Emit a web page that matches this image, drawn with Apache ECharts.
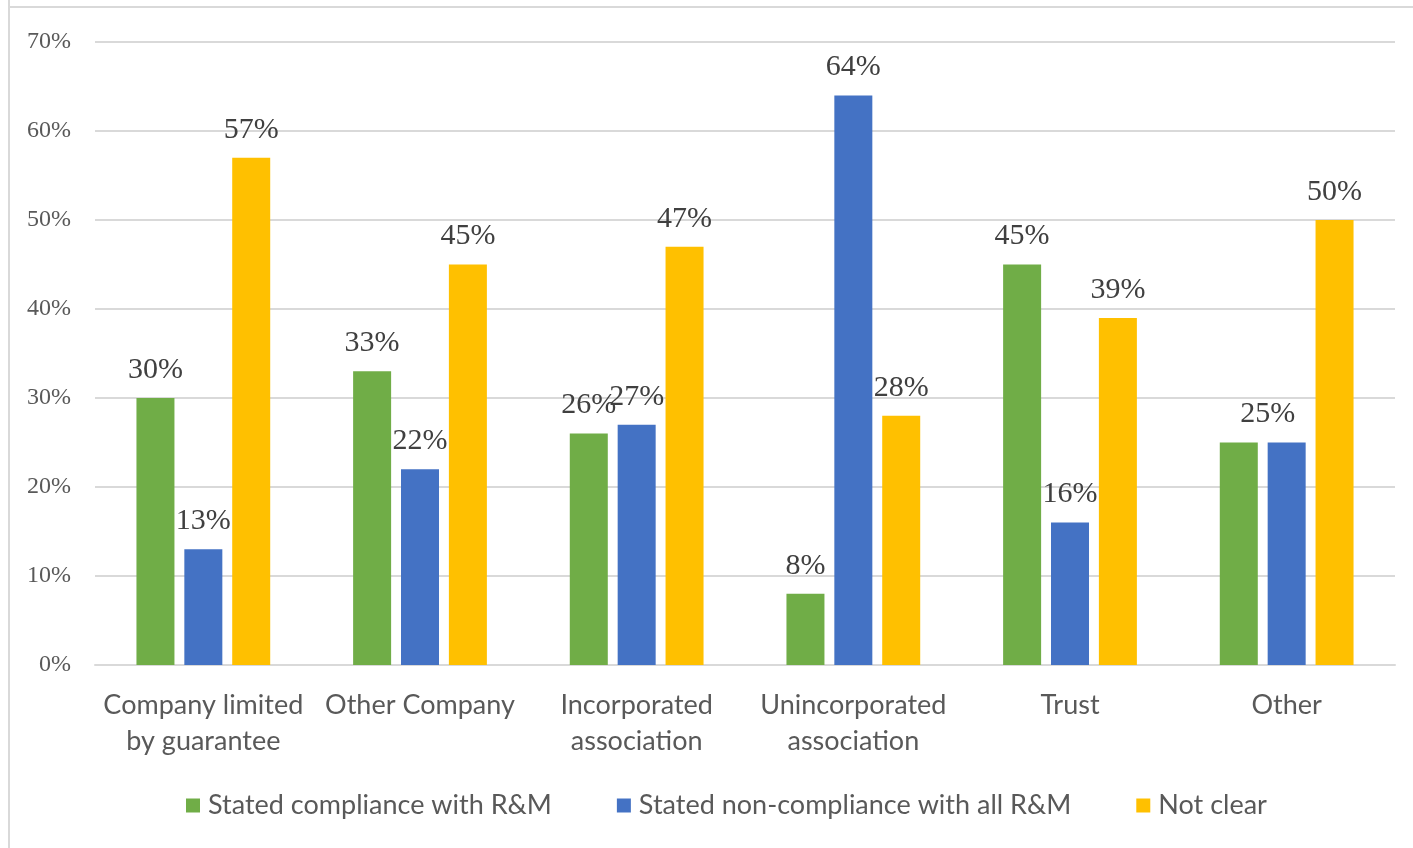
<!DOCTYPE html>
<html>
<head>
<meta charset="utf-8">
<script src="https://cdn.jsdelivr.net/npm/echarts@6/dist/echarts.min.js"></script>
<style>
  html, body { margin: 0; padding: 0; background: #fff; }
  #chart { width: 1413px; height: 848px; }
</style>
</head>
<body>
<div id="chart"></div>
<script>
// Legal structure categories
const categories = [
  'Company limited\nby guarantee',
  'Other Company',
  'Incorporated\nassociation',
  'Unincorporated\nassociation',
  'Trust',
  'Other'
];

// Share of organisations (%) per statement type
const compliance = [30, 33, 26, 8, 45, 25];
const nonCompliance = [13, 22, 27, 64, 16, 25];
const notClear = [57, 45, 47, 28, 39, 50];

const seriesNames = [
  'Stated compliance with R&M',
  'Stated non-compliance with all R&M',
  'Not clear'
];
const seriesColors = ['#70ad47', '#4472c4', '#ffc000'];

const serif = '"Liberation Serif", "DejaVu Serif", serif';
const sans = 'Lato, "Open Sans", sans-serif';

const labelStyle = {
  show: true,
  position: 'top',
  distance: 13,
  formatter: '{c}%',
  fontFamily: serif,
  fontSize: 30,
  color: '#404040'
};

// In the "Other" group the two equal 25% values share one centred label
function groupLabels(data, seriesIndex) {
  return data.map(function (v, i) {
    if (i === 5 && compliance[i] === nonCompliance[i]) {
      if (seriesIndex === 0) return { value: v, label: { offset: [29, 0] } };
      if (seriesIndex === 1) return { value: v, label: { show: false } };
    }
    return v;
  });
}

function makeSeries(idx, data) {
  return {
    name: seriesNames[idx],
    type: 'bar',
    data: groupLabels(data, idx),
    barWidth: 38,
    barGap: '26%',
    itemStyle: { color: seriesColors[idx] },
    label: labelStyle
  };
}

const chart = echarts.init(document.getElementById('chart'), null, { renderer: 'canvas' });

chart.setOption({
  animation: false,
  backgroundColor: '#ffffff',
  color: seriesColors,
  graphic: [
    { type: 'line', shape: { x1: 9, y1: 0, x2: 9, y2: 848 }, style: { stroke: '#d9d9d9', lineWidth: 2 } },
    { type: 'line', shape: { x1: 9, y1: 7, x2: 1413, y2: 7 }, style: { stroke: '#d9d9d9', lineWidth: 2 } }
  ],
  grid: {
    left: 95,
    right: 18,
    top: 42,
    bottom: 183,
    containLabel: false
  },
  legend: {
    top: 787,
    left: 181,
    itemWidth: 14,
    itemHeight: 14,
    itemGap: 65,
    icon: 'rect',
    textStyle: { fontFamily: sans, fontSize: 27, color: '#595959', padding: [0, 0, 0, 3] },
    data: seriesNames
  },
  xAxis: {
    type: 'category',
    data: categories,
    axisLine: { show: true, lineStyle: { color: '#d9d9d9', width: 2 } },
    axisTick: { show: false },
    axisLabel: {
      fontFamily: sans,
      fontSize: 27,
      color: '#595959',
      margin: 22,
      lineHeight: 36,
      interval: 0
    }
  },
  yAxis: {
    type: 'value',
    min: 0,
    max: 70,
    interval: 10,
    axisLine: { show: false },
    axisTick: { show: false },
    splitLine: { lineStyle: { color: '#d9d9d9', width: 2 } },
    axisLabel: {
      formatter: '{value}%',
      fontFamily: serif,
      fontSize: 24,
      color: '#595959',
      margin: 24,
      padding: [5, 0, 0, 0]
    }
  },
  series: [
    makeSeries(0, compliance),
    makeSeries(1, nonCompliance),
    makeSeries(2, notClear)
  ]
});
</script>
</body>
</html>
